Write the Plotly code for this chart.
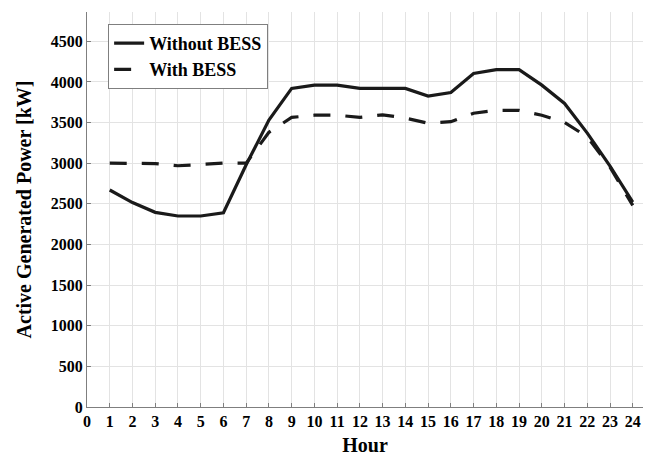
import plotly.graph_objects as go

hours = list(range(1, 25))
without_bess = [2670, 2515, 2395, 2350, 2350, 2390, 2980, 3530, 3920, 3960, 3960, 3920,
                3920, 3920, 3826, 3870, 4104, 4150, 4150, 3960, 3735, 3370, 2965, 2520]
with_bess = [3000, 3000, 2995, 2968, 2982, 3000, 3000, 3380, 3563, 3590, 3590, 3563,
             3595, 3555, 3492, 3510, 3615, 3650, 3650, 3590, 3500, 3325, 2950, 2480]

x_ticks = list(range(0, 25))
y_ticks = list(range(0, 5000, 500))

font_family = "Liberation Serif"
line_color = "#1a1a1a"

fig = go.Figure()
fig.add_trace(go.Scatter(
    x=hours, y=without_bess, mode="lines", name="<b>Without BESS</b>",
    line=dict(color=line_color, width=3.2),
))
fig.add_trace(go.Scatter(
    x=hours, y=with_bess, mode="lines", name="<b>With BESS</b>",
    line=dict(color=line_color, width=3.2, dash="17px,15px"),
))

axis_common = dict(
    showgrid=True, gridcolor="#e3e3e3", gridwidth=1,
    showline=True, linecolor="#7f7f7f", linewidth=1,
    ticks="inside", ticklen=4, tickcolor="#7f7f7f",
    zeroline=False, automargin=False,
    tickfont=dict(family=font_family, size=16, color="black", weight="bold"),
)

fig.update_xaxes(
    range=[0, 24.45], tickvals=x_ticks, ticktext=[f"<b>{v}</b>" for v in x_ticks],
    title=dict(text="<b>Hour</b>", font=dict(family=font_family, size=20, color="black"),
               standoff=12),
    **axis_common,
)
fig.update_yaxes(
    range=[0, 4860], tickvals=y_ticks, ticktext=[f"<b>{v}</b>" for v in y_ticks],
    title=dict(text="<b>Active Generated Power [kW]</b>",
               font=dict(family=font_family, size=20, color="black"), standoff=13),
    **axis_common,
)

fig.update_layout(
    width=656, height=456,
    margin=dict(l=87, r=13, t=12, b=49),
    paper_bgcolor="white", plot_bgcolor="white",
    showlegend=True,
    legend=dict(
        x=0.038, y=0.97, xanchor="left", yanchor="top",
        bgcolor="white", bordercolor="#7f7f7f", borderwidth=1,
        font=dict(family=font_family, size=18, color="black"),
        tracegroupgap=0, itemwidth=30,
        entrywidth=130, entrywidthmode="pixels",
    ),
)

fig.write_html("out.html")
